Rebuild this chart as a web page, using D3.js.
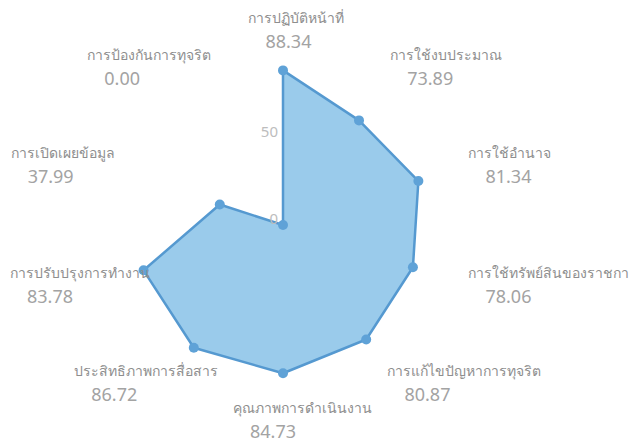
<!DOCTYPE html>
<html><head><meta charset="utf-8">
<script src="https://cdn.jsdelivr.net/npm/d3@7/dist/d3.min.js"></script>
<style>html,body{margin:0;padding:0;background:#fff;overflow:hidden}</style>
</head><body>
<svg id="c" width="629" height="444"></svg>
<script>
const categories = ["การปฏิบัติหน้าที่","การใช้งบประมาณ","การใช้อำนาจ","การใช้ทรัพย์สินของราชการ","การแก้ไขปัญหาการทุจริต","คุณภาพการดำเนินงาน","ประสิทธิภาพการสื่อสาร","การปรับปรุงการทำงาน","การเปิดเผยข้อมูล","การป้องกันการทุจริต"];
const values = [88.34,73.89,81.34,78.06,80.87,84.73,86.72,83.78,37.99,0.00];
const tickValues = [0,50];

const W=629,H=444,cx=283,cy=225,R=175;
const svg=d3.select("#c");
const n=categories.length;
const ang=d3.scalePoint().domain(categories).range([0,2*Math.PI*(n-1)/n]);
const r=d3.scaleLinear().domain([0,100]).range([0,R]);
const g=svg.append("g").attr("transform",`translate(${cx},${cy})`);
const font="'Noto Sans','DejaVu Sans',sans-serif";

const pts=categories.map((c,i)=>({c,v:values[i],a:ang(c)}));
const line=d3.lineRadial().angle(d=>d.a).radius(d=>r(d.v)).curve(d3.curveLinearClosed);
g.append("path").datum(pts).attr("d",line)
 .attr("fill","#9acbeb").attr("stroke","#5599d0").attr("stroke-width",2.5).attr("stroke-linejoin","round");
g.selectAll("circle").data(pts).enter().append("circle")
 .attr("cx",d=>r(d.v)*Math.sin(d.a)).attr("cy",d=>-r(d.v)*Math.cos(d.a))
 .attr("r",5).attr("fill","#5fa2d7");

g.selectAll(".tick").data(tickValues).enter().append("text")
 .attr("x",-5).attr("y",d=>-r(d)-1).attr("text-anchor","end")
 .attr("font-family",font).attr("font-size",15).attr("fill","#bdbdbd").text(d=>d);

const LR=R+20;
pts.forEach(d=>{
  const s=Math.sin(d.a), ax=LR*s, ay=-LR*Math.cos(d.a);
  const t=g.append("text").attr("font-family",font).attr("font-size",14).attr("fill","#8e8e8e")
    .attr("y",ay-12+5).text(d.c);
  const w=t.node().getComputedTextLength();
  let f=Math.max(0,Math.min(1,0.36-0.5*s));
  let x0=ax-w*f;
  if(cx+x0<10) x0=10-cx;
  t.attr("x",x0);
  g.append("text").attr("font-family",font).attr("font-size",18).attr("fill","#a3a3a3")
    .attr("x",x0+17).attr("y",ay+12+6).text(d.v.toFixed(2));
});
</script>
</body></html>
